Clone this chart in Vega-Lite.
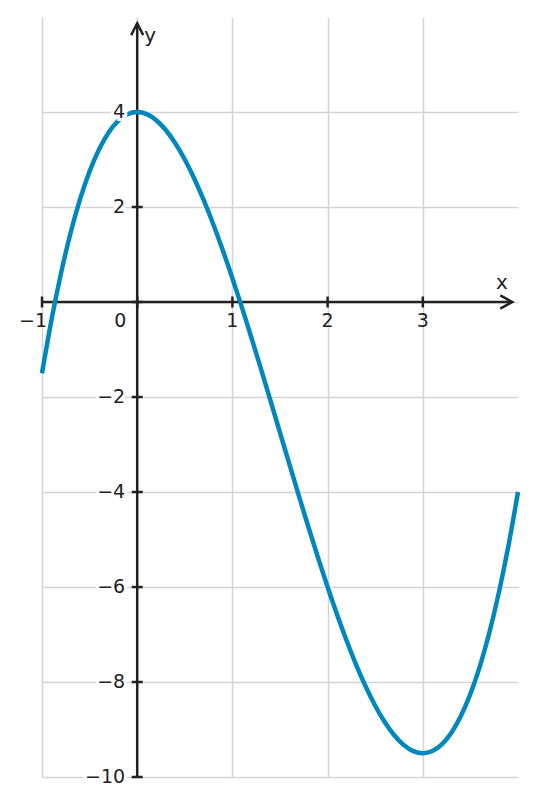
{
  "$schema": "https://vega.github.io/schema/vega-lite/v6.json",
  "width": 476,
  "height": 760,
  "autosize": {"type": "none"},
  "padding": {"left": 42, "top": 17, "right": 17, "bottom": 30},
  "config": {"view": {"stroke": null}, "font": "DejaVu Sans"},
  "datasets": {
    "curve": [
      {"x": -1.0, "y": -1.5}, {"x": -0.9, "y": -0.374}, {"x": -0.8, "y": 0.608}, {"x": -0.7, "y": 1.452},
      {"x": -0.6, "y": 2.164}, {"x": -0.5, "y": 2.75}, {"x": -0.4, "y": 3.216}, {"x": -0.3, "y": 3.568},
      {"x": -0.2, "y": 3.812}, {"x": -0.1, "y": 3.954}, {"x": 0.0, "y": 4.0}, {"x": 0.1, "y": 3.956},
      {"x": 0.2, "y": 3.828}, {"x": 0.3, "y": 3.622}, {"x": 0.4, "y": 3.344}, {"x": 0.5, "y": 3.0},
      {"x": 0.6, "y": 2.596}, {"x": 0.7, "y": 2.138}, {"x": 0.8, "y": 1.632}, {"x": 0.9, "y": 1.084},
      {"x": 1.0, "y": 0.5}, {"x": 1.1, "y": -0.114}, {"x": 1.2, "y": -0.752}, {"x": 1.3, "y": -1.408},
      {"x": 1.4, "y": -2.076}, {"x": 1.5, "y": -2.75}, {"x": 1.6, "y": -3.424}, {"x": 1.7, "y": -4.092},
      {"x": 1.8, "y": -4.748}, {"x": 1.9, "y": -5.386}, {"x": 2.0, "y": -6.0}, {"x": 2.1, "y": -6.584},
      {"x": 2.2, "y": -7.132}, {"x": 2.3, "y": -7.638}, {"x": 2.4, "y": -8.096}, {"x": 2.5, "y": -8.5},
      {"x": 2.6, "y": -8.844}, {"x": 2.7, "y": -9.122}, {"x": 2.8, "y": -9.328}, {"x": 2.9, "y": -9.456},
      {"x": 3.0, "y": -9.5}, {"x": 3.1, "y": -9.454}, {"x": 3.2, "y": -9.312}, {"x": 3.3, "y": -9.068},
      {"x": 3.4, "y": -8.716}, {"x": 3.5, "y": -8.25}, {"x": 3.6, "y": -7.664}, {"x": 3.7, "y": -6.952},
      {"x": 3.8, "y": -6.108}, {"x": 3.9, "y": -5.126}, {"x": 4.0, "y": -4.0}
    ],
    "axes": [
      {"x1": -1, "x2": 3.94, "y1": 0, "y2": 0},
      {"x1": 0, "x2": 0, "y1": -10, "y2": 5.87}
    ],
    "xticks": [{"v": -1}, {"v": 0}, {"v": 1}, {"v": 2}, {"v": 3}],
    "yticks": [{"v": 4}, {"v": 2}, {"v": 0}, {"v": -2}, {"v": -4}, {"v": -6}, {"v": -8}, {"v": -10}],
    "xlabels": [{"v": 1, "t": "1"}, {"v": 2, "t": "2"}, {"v": 3, "t": "3"}],
    "ylabels": [{"v": 4, "t": "4"}, {"v": 2, "t": "2"}, {"v": -2, "t": "−2"}, {"v": -4, "t": "−4"}, {"v": -6, "t": "−6"}, {"v": -8, "t": "−8"}, {"v": -10, "t": "−10"}],
    "titles": [{"x": 3.83, "y": 0.4, "t": "x"}, {"x": 0.137, "y": 5.6, "t": "y"}]
  },
  "layer": [
    {
      "data": {"name": "axes"},
      "mark": {"type": "rule", "stroke": "#222222", "strokeWidth": 2.5},
      "encoding": {
        "x": {"field": "x1", "type": "quantitative", "scale": {"domain": [-1, 4], "nice": false, "zero": false},
              "axis": {"values": [-1, 0, 1, 2, 3], "grid": true, "domain": false, "ticks": false, "labels": false, "title": null, "gridColor": "#d4d4d4", "gridWidth": 1.5}},
        "x2": {"field": "x2"},
        "y": {"field": "y1", "type": "quantitative", "scale": {"domain": [-10, 6], "nice": false, "zero": false},
              "axis": {"values": [4, 2, 0, -2, -4, -6, -8, -10], "grid": true, "domain": false, "ticks": false, "labels": false, "title": null, "gridColor": "#d4d4d4", "gridWidth": 1.5}},
        "y2": {"field": "y2"}
      }
    },
    {
      "data": {"name": "xticks"},
      "mark": {"type": "point", "shape": "M0,-1L0,1", "size": 121, "filled": false, "stroke": "#222222", "strokeWidth": 2.5, "opacity": 1},
      "encoding": {
        "x": {"field": "v", "type": "quantitative"},
        "y": {"datum": 0}
      }
    },
    {
      "data": {"name": "yticks"},
      "mark": {"type": "point", "shape": "M-1,0L1,0", "size": 121, "filled": false, "stroke": "#222222", "strokeWidth": 2.5, "opacity": 1},
      "encoding": {
        "x": {"datum": 0},
        "y": {"field": "v", "type": "quantitative"}
      }
    },
    {
      "data": {"values": [{"d": "up"}]},
      "mark": {"type": "point", "shape": "M-0.5,1L0,0L0.5,1", "size": 576, "filled": false, "stroke": "#222222", "strokeWidth": 2.5, "opacity": 1},
      "encoding": {"x": {"datum": 0}, "y": {"datum": 5.87}}
    },
    {
      "data": {"values": [{"d": "right"}]},
      "mark": {"type": "point", "shape": "M-1,-0.55L0,0L-1,0.55", "size": 576, "filled": false, "stroke": "#222222", "strokeWidth": 2.5, "opacity": 1},
      "encoding": {"x": {"datum": 3.94}, "y": {"datum": 0}}
    },
    {
      "data": {"name": "curve"},
      "mark": {"type": "line", "stroke": "#0087bd", "strokeWidth": 4.5, "interpolate": "monotone"},
      "encoding": {
        "x": {"field": "x", "type": "quantitative"},
        "y": {"field": "y", "type": "quantitative"}
      }
    },
    {
      "data": {"name": "ylabels"},
      "mark": {"type": "text", "align": "right", "baseline": "middle", "dx": -12, "fontSize": 19, "fill": "white", "stroke": "white", "strokeWidth": 6},
      "encoding": {"x": {"datum": 0}, "y": {"field": "v", "type": "quantitative"}, "text": {"field": "t"}}
    },
    {
      "data": {"name": "ylabels"},
      "mark": {"type": "text", "align": "right", "baseline": "middle", "dx": -12, "fontSize": 19, "fill": "#222222"},
      "encoding": {"x": {"datum": 0}, "y": {"field": "v", "type": "quantitative"}, "text": {"field": "t"}}
    },
    {
      "data": {"name": "xlabels"},
      "mark": {"type": "text", "align": "center", "baseline": "middle", "dy": 19, "fontSize": 19, "fill": "#222222"},
      "encoding": {"x": {"field": "v", "type": "quantitative"}, "y": {"datum": 0}, "text": {"field": "t"}}
    },
    {
      "data": {"values": [{"v": -1, "t": "−1"}]},
      "mark": {"type": "text", "align": "center", "baseline": "middle", "dx": -9, "dy": 19, "fontSize": 19, "fill": "#222222"},
      "encoding": {"x": {"field": "v", "type": "quantitative"}, "y": {"datum": 0}, "text": {"field": "t"}}
    },
    {
      "data": {"values": [{"v": 0, "t": "0"}]},
      "mark": {"type": "text", "align": "center", "baseline": "middle", "dx": -17, "dy": 19, "fontSize": 19, "fill": "#222222"},
      "encoding": {"x": {"field": "v", "type": "quantitative"}, "y": {"datum": 0}, "text": {"field": "t"}}
    },
    {
      "data": {"name": "titles"},
      "mark": {"type": "text", "align": "center", "baseline": "middle", "fontSize": 20, "fill": "#222222"},
      "encoding": {"x": {"field": "x", "type": "quantitative"}, "y": {"field": "y", "type": "quantitative"}, "text": {"field": "t"}}
    }
  ]
}
